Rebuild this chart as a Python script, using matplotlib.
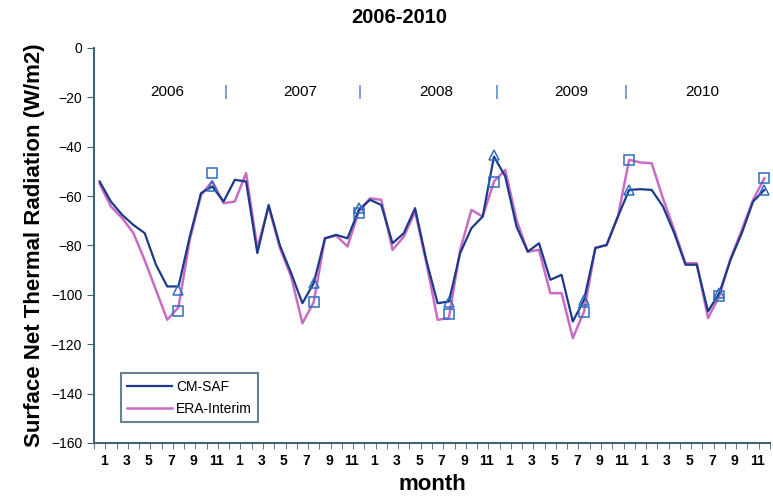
import numpy as np
import matplotlib.pyplot as plt
import matplotlib.transforms as mtransforms

plt.rcParams['font.family'] = ['Liberation Sans', 'DejaVu Sans']

# ============================
# Data (monthly means, W/m2)
# ============================
months = np.arange(1, 61)   # Jan 2006 .. Dec 2010

cm_saf = [
    -54.1, -62.2, -67.6, -71.7, -75.0, -87.8, -96.6, -96.6, -76.4, -58.8, -56.1, -62.2,   # 2006
    -53.4, -54.1, -83.1, -63.6, -80.0, -91.2, -103.4, -95.3, -77.1, -75.7, -77.1, -65.6,  # 2007
    -61.5, -63.6, -79.1, -75.0, -64.9, -86.0, -103.4, -102.7, -83.1, -73.0, -68.3, -44.0, # 2008
    -52.0, -72.3, -82.5, -79.1, -93.9, -91.9, -110.8, -102.0, -81.0, -79.8, -68.3, -57.5, # 2009
    -57.2, -57.5, -64.2, -75.0, -87.8, -87.8, -106.7, -99.3, -85.8, -75.0, -62.2, -57.5,  # 2010
]
era_interim = [
    -55.0, -64.2, -68.9, -75.0, -86.0, -98.0, -110.1, -105.0, -77.7, -59.5, -54.0, -62.9,  # 2006
    -62.2, -50.7, -81.1, -64.2, -81.0, -92.6, -111.5, -103.0, -77.1, -76.0, -80.4, -66.3,  # 2007
    -60.9, -61.5, -81.8, -76.4, -66.3, -87.0, -110.1, -109.4, -81.8, -65.6, -68.3, -54.1,  # 2008
    -49.4, -69.6, -82.5, -81.8, -99.3, -99.3, -117.5, -106.7, -81.0, -79.8, -68.3, -45.3,  # 2009
    -46.4, -46.7, -60.9, -73.7, -87.2, -87.2, -109.4, -100.6, -85.2, -73.7, -61.5, -52.8,  # 2010
]

# open markers drawn on top of the lines
tri_months = [8, 11, 20, 24, 32, 36, 44, 48, 56, 60]
tri_values = [-98.2, -56.1, -95.3, -64.9, -102.7, -43.3, -102.0, -57.5, -99.3, -57.5]
sq_months = [8, 11, 20, 24, 32, 36, 44, 48, 56, 60]
sq_values = [-106.5, -50.5, -102.7, -67.0, -107.7, -54.1, -107.1, -45.3, -100.6, -52.8]

years = ['2006', '2007', '2008', '2009', '2010']
year_label_x = [7.0, 18.8, 30.9, 42.9, 54.5]
sep_x = [12.2, 24.1, 36.2, 47.7]

tick_months = np.arange(1, 61, 2)
tick_labels = [str(m) for m in [1, 3, 5, 7, 9, 11] * 5]

# ============================
# Plot
# ============================
c_blue = '#1d3a8a'
c_pink = '#c86cc4'
c_mark = '#2f6cc0'
c_axis = '#3d6470'

fig = plt.figure(figsize=(7.73, 4.97), dpi=100)
ax = fig.add_axes([0.1216, 0.1087, 0.8745, 0.7948])

ax.plot(months, era_interim, color=c_pink, lw=1.8, label='ERA-Interim', zorder=2)
ax.plot(months, cm_saf, color=c_blue, lw=1.6, label='CM-SAF', zorder=3)
ax.plot(tri_months, tri_values, '^', ms=7, mfc='none', mec=c_mark, mew=1.1, zorder=4)
ax.plot(sq_months, sq_values, 's', ms=7, mfc='none', mec=c_mark, mew=1.1, zorder=4)

# year annotations
for x, y in zip(year_label_x, years):
    ax.text(x, -18, y, ha='center', va='center', fontsize=11)
for x in sep_x:
    ax.text(x, -18, '|', ha='center', va='center', fontsize=11, color=c_mark)

ax.set_xlim(0.5, 60.5)
ax.set_ylim(-160, 0)
ax.set_yticks(np.arange(-160, 1, 20))
ax.set_xticks(tick_months)
ax.set_xticklabels(tick_labels, fontsize=10, fontweight='bold')
ax.set_xticks(np.arange(0.5, 61, 1), minor=True)
ax.tick_params(axis='x', which='major', length=0, pad=8)
ax.tick_params(axis='x', which='minor', length=4, color=c_axis)
ax.tick_params(axis='y', length=5, color=c_axis, labelsize=10)

# month labels sit a few pixels right of the data points in the original
shift = mtransforms.ScaledTranslation(4 / 100, 0, fig.dpi_scale_trans)
for lab in ax.get_xticklabels():
    lab.set_transform(lab.get_transform() + shift)

for s in ['top', 'right']:
    ax.spines[s].set_visible(False)
for s in ['left', 'bottom']:
    ax.spines[s].set_color(c_axis)
    ax.spines[s].set_linewidth(1.5)

ax.set_xlabel('month', fontsize=16, fontweight='bold', labelpad=4)
ax.set_ylabel('Surface Net Thermal Radiation (W/m2)', fontsize=16, fontweight='bold', labelpad=4)
fig.text(0.517, 0.965, '2006-2010', ha='center', va='center', fontsize=14.5, fontweight='bold')

# legend: CM-SAF listed first
h, l = ax.get_legend_handles_labels()
leg = ax.legend(h[::-1], l[::-1], loc='lower left', bbox_to_anchor=(0.03, 0.035),
                fontsize=10, frameon=True, fancybox=False, handlelength=3.2,
                borderpad=0.45, labelspacing=0.6, handletextpad=0.3)
leg.get_frame().set_edgecolor(c_axis)
leg.get_frame().set_linewidth(1.5)

plt.savefig('out.png', dpi=100)
